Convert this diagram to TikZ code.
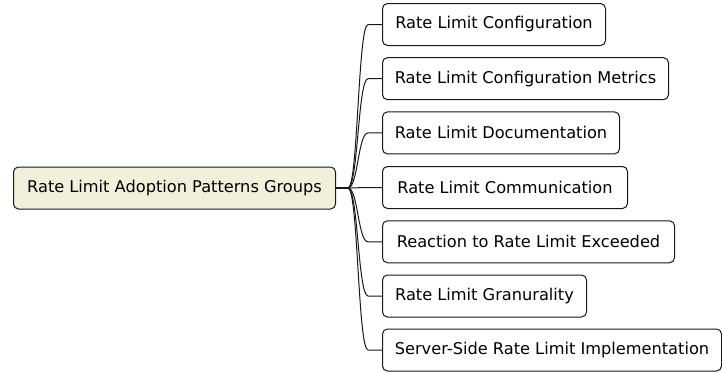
\documentclass[tikz,border=0pt]{standalone}
\usepackage{fontspec}
\setmainfont{DejaVu Sans}
\definecolor{rootfill}{RGB}{241,241,219}
\definecolor{edgeline}{RGB}{24,24,24}
\tikzset{
  topic/.style={draw=edgeline, line width=1pt, rounded corners=5pt,
    minimum height=42pt, inner sep=0pt, anchor=west, align=center,
    font=\fontsize{16.2}{19}\selectfont},
  roottopic/.style={topic, fill=rootfill},
  leaftopic/.style={topic, fill=white},
  branch/.style={draw=edgeline, line width=1pt},
  stem/.style={draw=edgeline, line width=2pt}
}
\begin{document}
\begin{tikzpicture}[x=1pt, y=-1pt]
  \useasboundingbox (0,0) rectangle (722,372);
  % central topic
  \node[roottopic, minimum width=322pt] (root) at (13,188) {Rate Limit Adoption Patterns Groups};
  % sub-topics
  \node[leaftopic, minimum width=223pt] (c1) at (382,24.5) {Rate Limit Configuration};
  \node[leaftopic, minimum width=286pt] (c2) at (382,78.7) {Rate Limit Configuration Metrics};
  \node[leaftopic, minimum width=237pt] (c3) at (382,132.9) {Rate Limit Documentation};
  \node[leaftopic, minimum width=245pt] (c4) at (382,187.5) {Rate Limit Communication};
  \node[leaftopic, minimum width=292pt] (c5) at (382,241.8) {Reaction to Rate Limit Exceeded};
  \node[leaftopic, minimum width=204pt] (c6) at (382,296) {Rate Limit Granurality};
  \node[leaftopic, minimum width=339pt] (c7) at (382,350) {Server-Side Rate Limit Implementation};
  % fork point right of the central topic
  \coordinate (fork) at ([xshift=12pt]root.east);
  \draw[stem] (root.east) -- (fork);
  \foreach \c in {c1,c2,c3,c4,c5,c6,c7}{
    \draw[branch] (fork) .. controls +(10,0) and +(-10,0) .. ([xshift=-14pt]\c.west) -- (\c.west);
  }
\end{tikzpicture}
\end{document}
